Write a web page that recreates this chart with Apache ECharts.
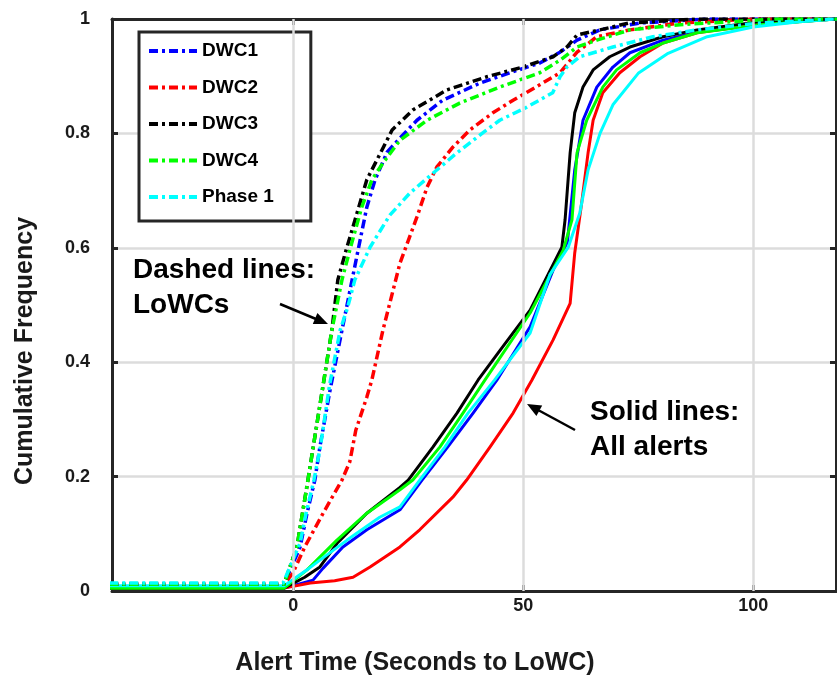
<!DOCTYPE html>
<html>
<head>
<meta charset="utf-8">
<script src="https://cdn.jsdelivr.net/npm/echarts@6/dist/echarts.min.js"></script>
<style>html,body{margin:0;padding:0;background:#fff;}#chart{width:837px;height:677px;}</style>
</head>
<body>
<div id="chart"></div>
<script>
// ---------- data (x: seconds to LoWC, y: cumulative frequency) ----------
const seriesNames = ['DWC1', 'DWC2', 'DWC3', 'DWC4', 'Phase 1'];
const seriesColors = ['#0000ff', '#ff0000', '#000000', '#00ff00', '#00ffff'];

const xTicks = [0, 50, 100];
const yTicks = [0, 0.2, 0.4, 0.6, 0.8, 1];

// Dashed lines: LoWCs
const dwc1Lowc = [[-40,0.012],[-2,0.012],[1.5,0.077],[3.0,0.136],[4.7,0.194],[5.8,0.252],[8.0,0.351],[10.6,0.456],[12.8,0.544],[14.1,0.596],[16.0,0.671],[17.8,0.719],[20.4,0.767],[23.2,0.792],[26.9,0.823],[32.5,0.858],[40.6,0.888],[47.1,0.906],[53.6,0.923],[58.0,0.942],[61.7,0.963],[66.7,0.981],[75.4,0.993],[90,1],[120,1]];
const dwc2Lowc = [[-40,0.012],[-2,0.012],[-0.1,0.031],[2.5,0.077],[6.5,0.136],[10.6,0.194],[12.3,0.226],[13.6,0.281],[16.0,0.339],[17.1,0.369],[19.5,0.456],[23.2,0.573],[26.9,0.654],[29.1,0.706],[31.2,0.741],[34.7,0.776],[38.4,0.806],[43.4,0.836],[47.8,0.858],[53.6,0.885],[58.0,0.906],[61.7,0.942],[66.0,0.969],[73.2,0.981],[84.1,0.993],[100,1],[120,1]];
const dwc3Lowc = [[-40,0.012],[-2,0.012],[0.8,0.077],[3.2,0.194],[6.5,0.36],[8.4,0.456],[9.7,0.544],[11.5,0.596],[16.0,0.719],[19.3,0.771],[21.5,0.806],[26.0,0.841],[33.4,0.876],[42.1,0.899],[49.9,0.916],[56.5,0.934],[59.5,0.951],[61.7,0.972],[66.7,0.981],[73,0.993],[88,1],[120,1]];
const dwc4Lowc = [[-40,0.012],[-2,0.012],[0.8,0.077],[3.2,0.194],[6.5,0.36],[8.4,0.456],[10.6,0.544],[12.3,0.596],[14.9,0.671],[17.1,0.719],[19.5,0.748],[23.2,0.788],[29.1,0.823],[36.2,0.853],[44.9,0.881],[53.6,0.906],[58.0,0.928],[61.7,0.951],[66.0,0.963],[73.2,0.981],[84.1,0.99],[105,1],[120,1]];
const phase1Lowc = [[-40,0.014],[-2.2,0.014],[1.5,0.084],[2.8,0.136],[4.5,0.194],[5.9,0.252],[7.9,0.36],[10.2,0.456],[11.8,0.495],[13.4,0.544],[16.7,0.601],[21.0,0.657],[25.4,0.696],[31.2,0.736],[35.6,0.766],[41.2,0.801],[44.9,0.823],[50.8,0.846],[56.4,0.871],[58.0,0.899],[59.5,0.916],[62.3,0.934],[69.5,0.951],[78.2,0.969],[87.8,0.981],[101.4,0.993],[118,1],[120,1]];

// Solid lines: All alerts
const dwc1All = [[-40,0.005],[-2,0.005],[4.3,0.019],[6.5,0.04],[10.8,0.077],[16.0,0.107],[23.2,0.142],[28.0,0.194],[33.6,0.252],[39.1,0.311],[44.3,0.369],[51.5,0.462],[56.5,0.561],[59.6,0.61],[61.2,0.736],[63.0,0.823],[66.0,0.881],[69.5,0.916],[73.2,0.941],[80.4,0.963],[87.8,0.977],[101.4,0.991],[118,1],[120,1]];
const dwc2All = [[-40,0.005],[-2,0.005],[3.7,0.014],[9.0,0.018],[13.0,0.024],[16.7,0.042],[23.2,0.077],[27.5,0.107],[34.7,0.164],[37.7,0.194],[42.8,0.252],[47.8,0.311],[51.9,0.369],[56.5,0.439],[60.2,0.503],[61.2,0.591],[62.7,0.678],[64.1,0.766],[65.2,0.823],[67.3,0.871],[71.0,0.906],[75.4,0.934],[80.4,0.958],[87.8,0.976],[101.4,0.991],[118,1],[120,1]];
const dwc3All = [[-40,0.005],[-2,0.005],[2.5,0.024],[5.8,0.042],[9.5,0.083],[16.0,0.136],[23.2,0.181],[25.0,0.194],[30.4,0.252],[35.6,0.311],[40.2,0.369],[45.0,0.421],[51.5,0.491],[58.4,0.601],[59.1,0.649],[60.2,0.766],[61.2,0.836],[63.0,0.881],[65.2,0.911],[68.8,0.934],[73.2,0.951],[80.4,0.969],[87.8,0.981],[101.4,0.995],[118,1],[120,1]];
const dwc4All = [[-40,0.005],[-2,0.005],[3.0,0.037],[9.5,0.089],[16.0,0.136],[23.2,0.177],[26.0,0.194],[31.9,0.252],[36.9,0.311],[41.7,0.369],[51.5,0.486],[58.7,0.596],[60.6,0.649],[61.7,0.766],[63.8,0.823],[67.3,0.881],[70.3,0.911],[75.4,0.941],[80.4,0.958],[87.8,0.976],[101.4,0.99],[118,1],[120,1]];
const phase1All = [[-40,0.009],[-2,0.009],[3.0,0.037],[5.8,0.054],[11.7,0.089],[18.8,0.129],[23.2,0.147],[27.5,0.194],[33.0,0.252],[38.0,0.311],[43.8,0.369],[51.5,0.451],[55.8,0.553],[59.8,0.601],[62.3,0.661],[64.1,0.736],[66.7,0.8],[69.5,0.85],[75.0,0.905],[81.5,0.94],[90,0.969],[100,0.986],[110,0.995],[118,1],[120,1]];

const lowcData = [dwc1Lowc, dwc2Lowc, dwc3Lowc, dwc4Lowc, phase1Lowc];
const allData = [dwc1All, dwc2All, dwc3All, dwc4All, phase1All];

// ---------- chart ----------
const FONT = '"Liberation Sans", Arial, Helvetica, sans-serif';
const AXIS_COLOR = '#262626';
const GRID_COLOR = '#dcdcdc';
const X_MIN = -39.4, X_MAX = 118;

const series = [];
// dashed series first (legend icon taken from them), drawn on top via z
seriesNames.forEach((name, i) => {
  series.push({
    name: name, type: 'line', data: lowcData[i], symbol: 'none',
    smooth: false, z: 4 + i * 0.01, silent: true,
    lineStyle: { color: seriesColors[i], width: 3.5, type: [9, 4, 3, 4], cap: 'butt', join: 'round' },
    itemStyle: { color: seriesColors[i] }
  });
});
seriesNames.forEach((name, i) => {
  series.push({
    name: name, type: 'line', data: allData[i], symbol: 'none',
    smooth: false, z: 3 + i * 0.01, silent: true,
    lineStyle: { color: seriesColors[i], width: 3, type: 'solid', join: 'round' },
    itemStyle: { color: seriesColors[i] }
  });
});
// vertical grid lines at the x tick values
series.push({
  name: '__grid', type: 'line', data: [], z: 1, silent: true,
  markLine: {
    silent: true, symbol: ['none', 'none'], label: { show: false },
    lineStyle: { color: GRID_COLOR, width: 2.5, type: 'solid' },
    emphasis: { disabled: true },
    data: xTicks.map(v => ({ xAxis: v }))
  }
});

const option = {
  animation: false,
  backgroundColor: '#ffffff',
  textStyle: { fontFamily: FONT },
  grid: { left: 112, right: 1, top: 19, bottom: 86, containLabel: false },
  legend: {
    data: seriesNames,
    orient: 'vertical', left: 139, top: 32,
    padding: [9, 37, 14, 8],
    itemWidth: 48, itemHeight: 20, itemGap: 16.5,
    itemStyle: { opacity: 0, borderWidth: 0 },
    lineStyle: { width: 4 },
    backgroundColor: '#ffffff', borderColor: AXIS_COLOR, borderWidth: 3, borderRadius: 0,
    textStyle: { fontFamily: FONT, fontWeight: 'bold', fontSize: 19, lineHeight: 20, color: '#000' },
    selectedMode: false
  },
  xAxis: [
    {
      type: 'value', min: X_MIN, max: X_MAX, position: 'bottom',
      axisLine: { show: true, onZero: false, lineStyle: { color: AXIS_COLOR, width: 3 } },
      axisTick: { show: true, inside: true, length: 6, customValues: xTicks, lineStyle: { color: AXIS_COLOR, width: 3 } },
      axisLabel: { show: true, customValues: xTicks, margin: 6, fontFamily: FONT, fontWeight: 'bold', fontSize: 18, color: '#1a1a1a' },
      splitLine: { show: false }
    },
    {
      type: 'value', min: X_MIN, max: X_MAX, position: 'top',
      axisLine: { show: true, onZero: false, lineStyle: { color: AXIS_COLOR, width: 3 } },
      axisTick: { show: true, inside: true, length: 6, customValues: xTicks, lineStyle: { color: AXIS_COLOR, width: 3 } },
      axisLabel: { show: false }, splitLine: { show: false }
    }
  ],
  yAxis: [
    {
      type: 'value', min: 0, max: 1, interval: 0.2, position: 'left',
      axisLine: { show: true, onZero: false, lineStyle: { color: AXIS_COLOR, width: 3 } },
      axisTick: { show: true, inside: true, length: 6, lineStyle: { color: AXIS_COLOR, width: 3 } },
      axisLabel: { show: true, margin: 22, fontFamily: FONT, fontWeight: 'bold', fontSize: 18, color: '#1a1a1a',
                   formatter: v => String(Math.round(v * 10) / 10) },
      splitLine: { show: true, lineStyle: { color: GRID_COLOR, width: 2.5 } }
    },
    {
      type: 'value', min: 0, max: 1, interval: 0.2, position: 'right',
      axisLine: { show: true, onZero: false, lineStyle: { color: AXIS_COLOR, width: 3 } },
      axisTick: { show: true, inside: true, length: 6, lineStyle: { color: AXIS_COLOR, width: 3 } },
      axisLabel: { show: false }, splitLine: { show: false }
    }
  ],
  graphic: [
    { type: 'text', x: 25, y: 351, rotation: Math.PI / 2, z: 10,
      style: { text: 'Cumulative Frequency', fontFamily: FONT, fontWeight: 'bold', fontSize: 25, fill: '#1a1a1a', align: 'center', verticalAlign: 'middle' } },
    { type: 'text', x: 415, y: 663, z: 10,
      style: { text: 'Alert Time (Seconds to LoWC)', fontFamily: FONT, fontWeight: 'bold', fontSize: 25, fill: '#1a1a1a', align: 'center', verticalAlign: 'middle' } },
    { type: 'text', x: 133, y: 270, z: 10,
      style: { text: 'Dashed lines:', fontFamily: FONT, fontWeight: 'bold', fontSize: 28, fill: '#000', align: 'left', verticalAlign: 'middle' } },
    { type: 'text', x: 133, y: 305, z: 10,
      style: { text: 'LoWCs', fontFamily: FONT, fontWeight: 'bold', fontSize: 28, fill: '#000', align: 'left', verticalAlign: 'middle' } },
    { type: 'text', x: 590, y: 412, z: 10,
      style: { text: 'Solid lines:', fontFamily: FONT, fontWeight: 'bold', fontSize: 28, fill: '#000', align: 'left', verticalAlign: 'middle' } },
    { type: 'text', x: 590, y: 447, z: 10,
      style: { text: 'All alerts', fontFamily: FONT, fontWeight: 'bold', fontSize: 28, fill: '#000', align: 'left', verticalAlign: 'middle' } },
    { type: 'line', z: 10, shape: { x1: 280, y1: 304, x2: 316, y2: 319 }, style: { stroke: '#000', lineWidth: 2.5 } },
    { type: 'polygon', z: 10, shape: { points: [[328, 324], [317.4, 313.1], [312.8, 324.1]] }, style: { fill: '#000' } },
    { type: 'line', z: 10, shape: { x1: 575, y1: 430, x2: 539, y2: 410.5 }, style: { stroke: '#000', lineWidth: 2.5 } },
    { type: 'polygon', z: 10, shape: { points: [[527, 404], [542.2, 405.4], [536.4, 416.0]] }, style: { fill: '#000' } }
  ],
  series: series
};

const chart = echarts.init(document.getElementById('chart'), null, { renderer: 'canvas' });
chart.setOption(option);
</script>
</body>
</html>
